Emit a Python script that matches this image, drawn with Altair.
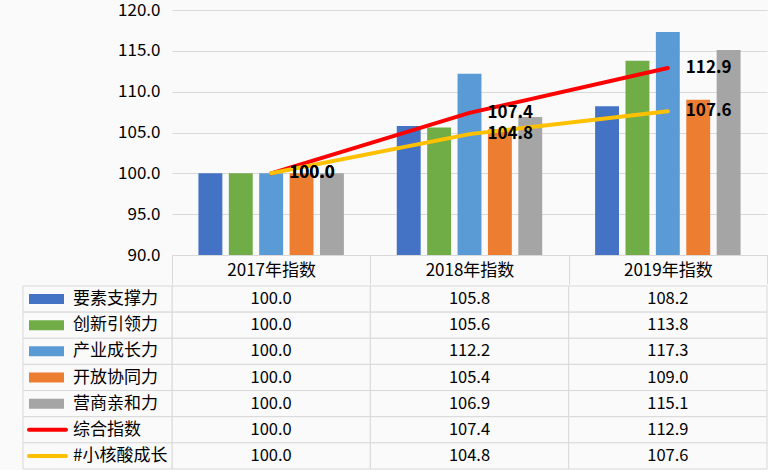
import altair as alt
import pandas as pd

FONT = "Noto Sans CJK SC"

categories = ["2017年指数", "2018年指数", "2019年指数"]
bar_series = ["要素支撑力", "创新引领力", "产业成长力", "开放协同力", "营商亲和力"]
line_series = ["综合指数", "#小核酸成长"]
all_series = bar_series + line_series

yaosu = [100.0, 105.8, 108.2]
chuangxin = [100.0, 105.6, 113.8]
chanye = [100.0, 112.2, 117.3]
kaifang = [100.0, 105.4, 109.0]
yingshang = [100.0, 106.9, 115.1]
zonghe = [100.0, 107.4, 112.9]
xiaohe = [100.0, 104.8, 107.6]

series_values = [yaosu, chuangxin, chanye, kaifang, yingshang, zonghe, xiaohe]
colors = ["#4472C4", "#70AD47", "#5B9BD5", "#ED7D31", "#A5A5A5", "#FF0000", "#FFC000"]
y_ticks = [90, 95, 100, 105, 110, 115, 120]

rows = []
for name, vals in zip(all_series, series_values):
    kind = "bar" if name in bar_series else "line"
    for c, v in zip(categories, vals):
        rows.append({"series": name, "cat": c, "value": v, "kind": kind})
df = pd.DataFrame(rows)
leg_df = pd.DataFrame({"series": all_series,
                       "kind": ["bar" if s in bar_series else "line" for s in all_series]})

BG = "#fafafa"
GRID = "#d9d9d9"
W = 595
LEG_W = 149

color_scale = alt.Scale(domain=all_series, range=colors)
x_scale = alt.Scale(domain=categories, paddingInner=0, paddingOuter=0)
y_scale = alt.Scale(domain=[90, 120], nice=False, zero=False)

x_top = alt.X("cat:N", sort=categories, scale=x_scale,
              axis=alt.Axis(title=None, labelAngle=0, labelFontSize=17, labelFont=FONT,
                            labelColor="#000000", domainColor=GRID, tickColor=GRID,
                            tickSize=29, tickBand="extent", labelPadding=-14,
                            labelBaseline="middle", grid=False))
y_top = alt.Y("value:Q", scale=y_scale,
              axis=alt.Axis(title=None, values=y_ticks, format=".1f", labelFontSize=17,
                            labelFont=FONT, labelColor="#000000", ticks=False, domain=False,
                            gridColor=GRID, labelPadding=12))

base = alt.Chart(df).encode(x=x_top, y=y_top)

bars = base.transform_filter(alt.datum.kind == "bar").mark_bar().encode(
    y2=alt.datum(90),
    xOffset=alt.XOffset("series:N", sort=bar_series,
                        scale=alt.Scale(domain=bar_series, paddingInner=0.213, paddingOuter=0.87)),
    color=alt.Color("series:N", scale=color_scale, legend=None),
)
lines = base.transform_filter(alt.datum.kind == "line").mark_line(
    strokeWidth=4, strokeCap="round", strokeJoin="round").encode(
    color=alt.Color("series:N", scale=color_scale, legend=None),
    detail="series:N",
)
labels = base.transform_filter(alt.datum.kind == "line").mark_text(
    align="left", baseline="middle", dx=18, fontSize=17, fontWeight="bold",
    font=FONT, color="#000000").encode(text=alt.Text("value:Q", format=".1f"))

top = alt.layer(bars, lines, labels).properties(width=W, height=245)

row_y = alt.Y("series:N", sort=all_series,
              scale=alt.Scale(domain=all_series, paddingInner=0, paddingOuter=0), axis=None)

tbase = alt.Chart(df).encode(
    x=alt.X("cat:N", sort=categories, scale=x_scale, axis=None), y=row_y)
cells = tbase.mark_rect(fill=BG, stroke=GRID, strokeWidth=1)
ctext = tbase.mark_text(fontSize=16.5, font=FONT, color="#000000").encode(
    text=alt.Text("value:Q", format=".1f"))

lbase = alt.Chart(leg_df).encode(y=row_y)
lcells = lbase.mark_rect(fill=BG, stroke=GRID, strokeWidth=1).encode(
    x=alt.value(-LEG_W), x2=alt.value(0))
lbar = lbase.transform_filter(alt.datum.kind == "bar").mark_rule(
    strokeWidth=10, strokeCap="butt").encode(
    x=alt.value(-LEG_W + 6), x2=alt.value(-LEG_W + 41),
    color=alt.Color("series:N", scale=color_scale, legend=None))
lline = lbase.transform_filter(alt.datum.kind == "line").mark_rule(
    strokeWidth=4, strokeCap="round").encode(
    x=alt.value(-LEG_W + 6), x2=alt.value(-LEG_W + 43),
    color=alt.Color("series:N", scale=color_scale, legend=None))
ltext = lbase.mark_text(align="left", baseline="middle", fontSize=17, font=FONT,
                        color="#000000").encode(x=alt.value(-LEG_W + 50), text="series:N")

table = alt.layer(cells, ctext, lcells, lbar, lline, ltext).properties(width=W, height=183)

chart = alt.vconcat(top, table, spacing=0).configure_view(stroke=None).properties(
    background=BG,
    padding={"left": 22, "top": 1, "right": 0, "bottom": 0},
)

chart.save("out.html", embed_options={"renderer": "svg", "actions": False})
